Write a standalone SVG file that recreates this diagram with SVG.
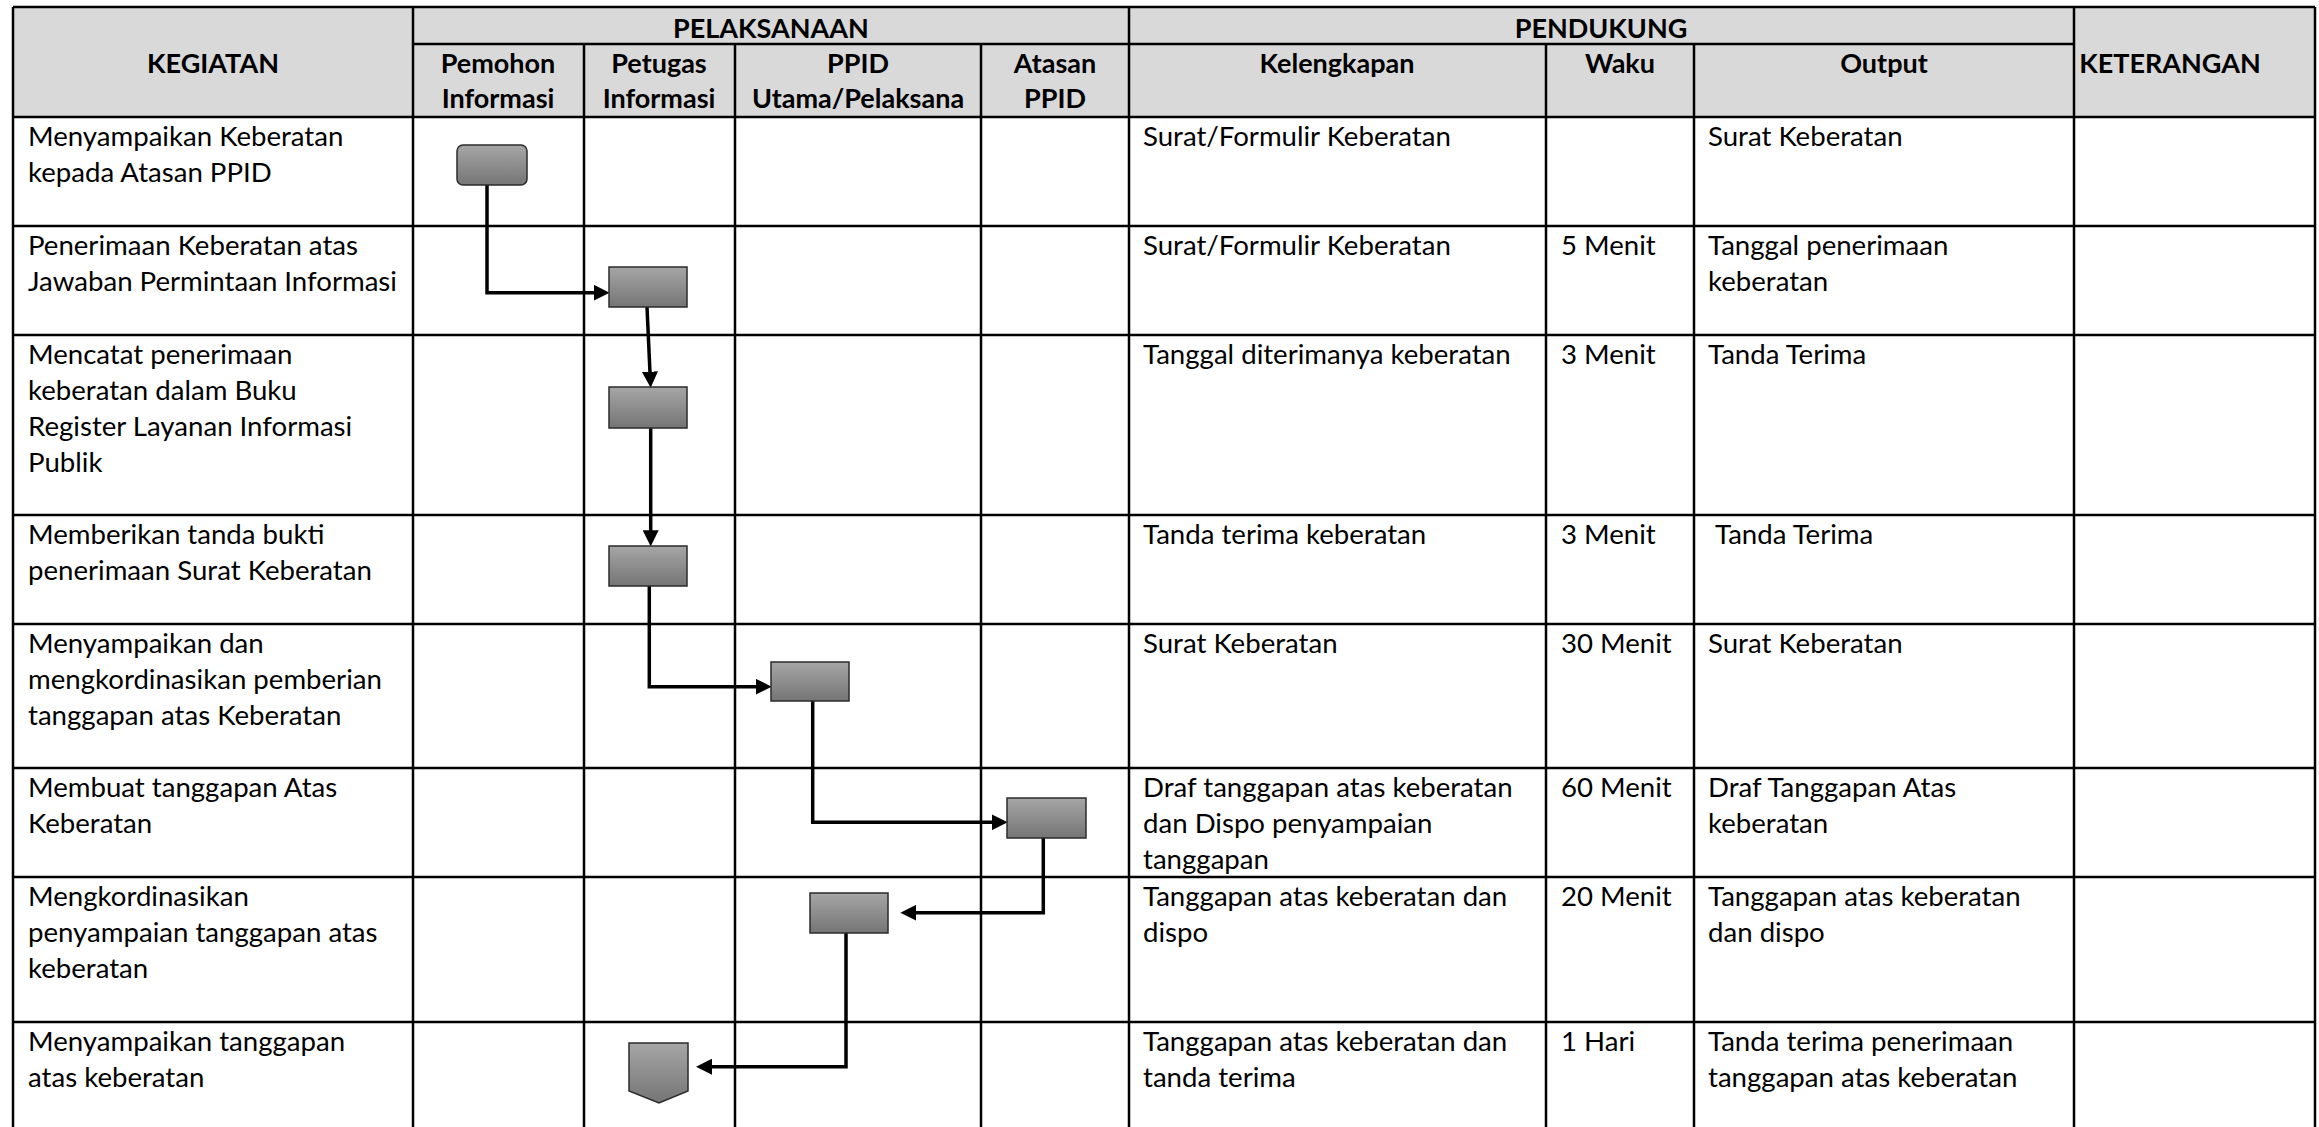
<svg xmlns="http://www.w3.org/2000/svg" width="2319" height="1127" viewBox="0 0 2319 1127">
<defs>
<linearGradient id="g" x1="0" y1="0" x2="0" y2="1">
<stop offset="0" stop-color="#a6a6a6"/>
<stop offset="1" stop-color="#757575"/>
</linearGradient>
<marker id="ah" markerUnits="userSpaceOnUse" markerWidth="16" markerHeight="16" viewBox="0 0 15 15" refX="5" refY="7.5" orient="auto">
<path d="M0,0 L15,7.5 L0,15 Z" fill="#000"/>
</marker>
<style>
.t{font-family:Lato,"Liberation Sans",sans-serif;font-size:27.6px;fill:#000}
.h{font-family:Lato,"Liberation Sans",sans-serif;font-size:27px;font-weight:bold;fill:#000;text-anchor:middle}
.gl{stroke:#000;stroke-width:2.5;fill:none}
.nd{fill:url(#g);stroke:#2b2b2b;stroke-width:1.5}
.cn{stroke:#000;stroke-width:3.5;fill:none;marker-end:url(#ah)}
</style>
</defs>
<rect width="2319" height="1127" fill="#fff"/>
<g id="table">
<rect x="13" y="7" width="2302" height="110" fill="#d9d9d9"/>
<path class="gl" d="M13,7V1127M413,7V1127M584,44V1127M735,44V1127M981,44V1127M1129,7V1127M1546,44V1127M1694,44V1127M2074,7V1127M2315,7V1127"/>
<path class="gl" d="M13,7H2315M413,44H2074M13,117H2315M13,226H2315M13,335H2315M13,515H2315M13,624H2315M13,768H2315M13,877H2315M13,1022H2315"/>
<g transform="translate(0,1.5)">
<text class="h" x="771" y="36">PELAKSANAAN</text>
<text class="h" x="1601" y="36">PENDUKUNG</text>
<text class="h" x="213" y="71">KEGIATAN</text>
<text class="h" x="498" y="71">Pemohon</text>
<text class="h" x="498" y="106">Informasi</text>
<text class="h" x="659" y="71">Petugas</text>
<text class="h" x="659" y="106">Informasi</text>
<text class="h" x="858" y="71">PPID</text>
<text class="h" x="858" y="106">Utama/Pelaksana</text>
<text class="h" x="1055" y="71">Atasan</text>
<text class="h" x="1055" y="106">PPID</text>
<text class="h" x="1337" y="71">Kelengkapan</text>
<text class="h" x="1620" y="71">Waku</text>
<text class="h" x="1884" y="71">Output</text>
<text class="h" x="2170" y="71">KETERANGAN</text>
</g>
<g transform="translate(0,2)">
<text class="t" x="28" y="144">Menyampaikan Keberatan</text>
<text class="t" x="28" y="180">kepada Atasan PPID</text>
<text class="t" x="1143" y="144">Surat/Formulir Keberatan</text>
<text class="t" x="1708" y="144">Surat Keberatan</text>

<text class="t" x="28" y="253">Penerimaan Keberatan atas</text>
<text class="t" x="28" y="289">Jawaban Permintaan Informasi</text>
<text class="t" x="1143" y="253">Surat/Formulir Keberatan</text>
<text class="t" x="1561" y="253">5 Menit</text>
<text class="t" x="1708" y="253">Tanggal penerimaan</text>
<text class="t" x="1708" y="289">keberatan</text>

<text class="t" x="28" y="362">Mencatat penerimaan</text>
<text class="t" x="28" y="398">keberatan dalam Buku</text>
<text class="t" x="28" y="434">Register Layanan Informasi</text>
<text class="t" x="28" y="470">Publik</text>
<text class="t" x="1143" y="362">Tanggal diterimanya keberatan</text>
<text class="t" x="1561" y="362">3 Menit</text>
<text class="t" x="1708" y="362">Tanda Terima</text>

<text class="t" x="28" y="542">Memberikan tanda bukti</text>
<text class="t" x="28" y="578">penerimaan Surat Keberatan</text>
<text class="t" x="1143" y="542">Tanda terima keberatan</text>
<text class="t" x="1561" y="542">3 Menit</text>
<text class="t" x="1715" y="542">Tanda Terima</text>

<text class="t" x="28" y="651">Menyampaikan dan</text>
<text class="t" x="28" y="687">mengkordinasikan pemberian</text>
<text class="t" x="28" y="723">tanggapan atas Keberatan</text>
<text class="t" x="1143" y="651">Surat Keberatan</text>
<text class="t" x="1561" y="651">30 Menit</text>
<text class="t" x="1708" y="651">Surat Keberatan</text>

<text class="t" x="28" y="795">Membuat tanggapan Atas</text>
<text class="t" x="28" y="831">Keberatan</text>
<text class="t" x="1143" y="795">Draf tanggapan atas keberatan</text>
<text class="t" x="1143" y="831">dan Dispo penyampaian</text>
<text class="t" x="1143" y="867">tanggapan</text>
<text class="t" x="1561" y="795">60 Menit</text>
<text class="t" x="1708" y="795">Draf Tanggapan Atas</text>
<text class="t" x="1708" y="831">keberatan</text>

<text class="t" x="28" y="904">Mengkordinasikan</text>
<text class="t" x="28" y="940">penyampaian tanggapan atas</text>
<text class="t" x="28" y="976">keberatan</text>
<text class="t" x="1143" y="904">Tanggapan atas keberatan dan</text>
<text class="t" x="1143" y="940">dispo</text>
<text class="t" x="1561" y="904">20 Menit</text>
<text class="t" x="1708" y="904">Tanggapan atas keberatan</text>
<text class="t" x="1708" y="940">dan dispo</text>

<text class="t" x="28" y="1049">Menyampaikan tanggapan</text>
<text class="t" x="28" y="1085">atas keberatan</text>
<text class="t" x="1143" y="1049">Tanggapan atas keberatan dan</text>
<text class="t" x="1143" y="1085">tanda terima</text>
<text class="t" x="1561" y="1049">1 Hari</text>
<text class="t" x="1708" y="1049">Tanda terima penerimaan</text>
<text class="t" x="1708" y="1085">tanggapan atas keberatan</text>
</g>
</g>
<g id="connectors">
<path class="cn" d="M487,185V292.7H599"/>
<path class="cn" d="M647,307L650.2,377"/>
<path class="cn" d="M650.7,428V535.7"/>
<path class="cn" d="M649.3,586V686.7H761"/>
<path class="cn" d="M812.7,701V822.3H997"/>
<path class="cn" d="M1043.3,838V912.7H911"/>
<path class="cn" d="M846,933V1066.7H706.7"/>
</g>
<g id="n1"><rect class="nd" x="457" y="145" width="70" height="40" rx="6"/></g>
<g id="n2"><rect class="nd" x="609" y="267" width="78" height="40"/></g>
<g id="n3"><rect class="nd" x="609" y="387" width="78" height="41"/></g>
<g id="n4"><rect class="nd" x="609" y="546" width="78" height="40"/></g>
<g id="n5"><rect class="nd" x="771" y="662" width="78" height="39"/></g>
<g id="n6"><rect class="nd" x="1007" y="798" width="79" height="40"/></g>
<g id="n7"><rect class="nd" x="810" y="893" width="78" height="40"/></g>
<g id="n8"><path class="nd" d="M629,1043H688V1091L659,1103L629,1091Z"/></g>
</svg>
